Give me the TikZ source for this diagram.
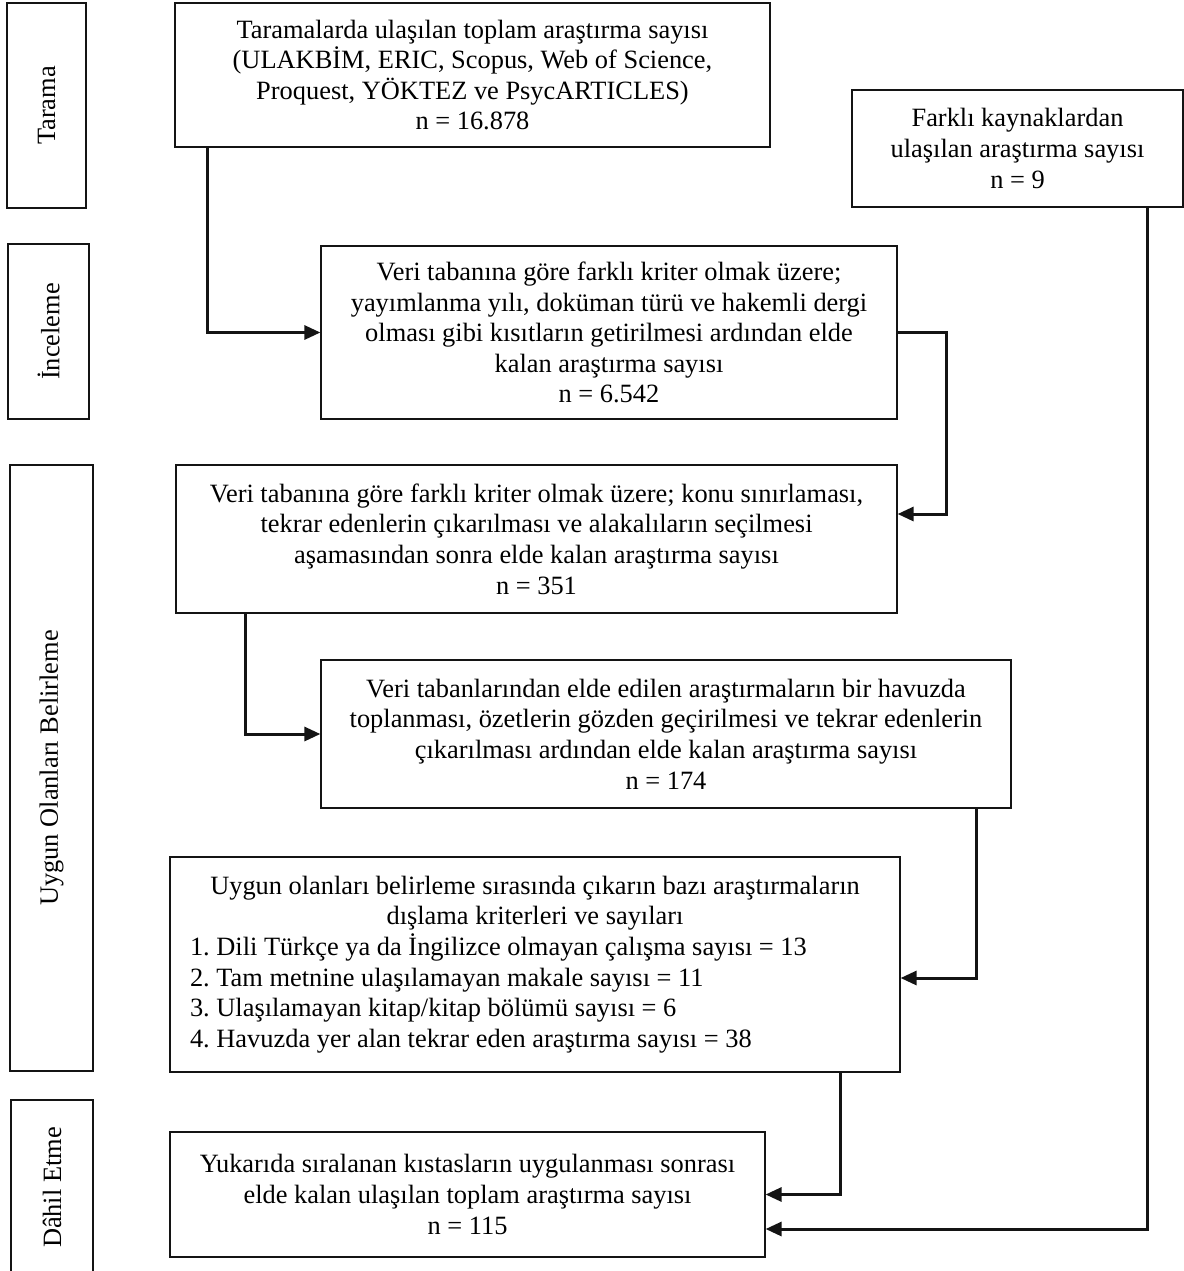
\documentclass[tikz,border=0pt]{standalone}
\usepackage{fontspec}
\setmainfont{Liberation Serif}
\usepackage{tikz}
\usetikzlibrary{arrows.meta,positioning,calc}
\definecolor{ink}{RGB}{20,20,20}
\frenchspacing
\tikzset{
  box/.style={draw=ink,line width=0.6pt,fill=white,inner sep=3pt,
    font=\fontsize{13.2}{15.3}\selectfont,align=center},
  side/.style={box,rotate=90},
  arr/.style={-{Triangle[length=8pt,width=7pt]},line width=1.5pt,ink},
}

\begin{document}
\begin{tikzpicture}[x=0.5pt,y=-0.5pt]
  \useasboundingbox (0,0) rectangle (1184,1271);
  % stage labels on the left
  \node[side,minimum width=102.5pt,minimum height=39.5pt] (sTar) at (46.5,105.5) {Tarama};
  \node[side,minimum width=87.5pt,minimum height=40.5pt] (sInc) at (48.5,331.5) {İnceleme};
  \node[side,minimum width=303pt,minimum height=41.5pt] (sUyg) at (51.5,768) {Uygun Olanları Belirleme};
  \node[side,minimum width=87.5pt,minimum height=41pt] (sDah) at (52,1187.5) {Dâhil Etme};
  % flow boxes
  \node[box,minimum width=297.5pt,minimum height=72pt] (b1) at (472.5,75)
    {Taramalarda ulaşılan toplam araştırma sayısı\\
     (ULAKBİM, ERIC, Scopus, Web of Science,\\
     Proquest, YÖKTEZ ve PsycARTICLES)\\
     n = 16.878};
  \node[box,minimum width=165.5pt,minimum height=58.5pt] (fk) at (1017.5,148.5)
    {Farklı kaynaklardan\\ ulaşılan araştırma sayısı\\ n = 9};
  \node[box,minimum width=288pt,minimum height=86.5pt] (b2) at (609,332.5)
    {Veri tabanına göre farklı kriter olmak üzere;\\
     yayımlanma yılı, doküman türü ve hakemli dergi\\
     olması gibi kısıtların getirilmesi ardından elde\\
     kalan araştırma sayısı\\
     n = 6.542};
  \node[box,minimum width=360.5pt,minimum height=74pt] (b3) at (536.5,539)
    {Veri tabanına göre farklı kriter olmak üzere; konu sınırlaması,\\
     tekrar edenlerin çıkarılması ve alakalıların seçilmesi\\
     aşamasından sonra elde kalan araştırma sayısı\\
     n = 351};
  \node[box,minimum width=345pt,minimum height=74pt] (b4) at (666,734)
    {Veri tabanlarından elde edilen araştırmaların bir havuzda\\
     toplanması, özetlerin gözden geçirilmesi ve tekrar edenlerin\\
     çıkarılması ardından elde kalan araştırma sayısı\\
     n = 174};
  \node[box,minimum width=365pt,minimum height=107.5pt] (b5) at (535,964.5)
    {\begin{minipage}{345pt}\centering
     Uygun olanları belirleme sırasında çıkarın bazı araştırmaların\\
     dışlama kriterleri ve sayıları\par\raggedright
     1. Dili Türkçe ya da İngilizce olmayan çalışma sayısı = 13\\
     2. Tam metnine ulaşılamayan makale sayısı = 11\\
     3. Ulaşılamayan kitap/kitap bölümü sayısı = 6\\
     4. Havuzda yer alan tekrar eden araştırma sayısı = 38
     \end{minipage}};
  \node[box,minimum width=297.5pt,minimum height=62.5pt] (b6) at (467.5,1194.5)
    {Yukarıda sıralanan kıstasların uygulanması sonrası\\
     elde kalan ulaşılan toplam araştırma sayısı\\
     n = 115};
  % bends of the connectors
  \coordinate (k12) at (207,0);
  \coordinate (k23) at (946,514);
  \coordinate (k34) at (245,0);
  \coordinate (k45) at (976,978);
  \coordinate (k56) at (840,0);
  \coordinate (kf6) at (1147,1229);
  \draw[arr] (b1.south -| k12) |- (b2.west);
  \draw[arr] (b2.east) -| (k23) -- (b3.east |- k23);
  \draw[arr] (b3.south -| k34) |- (b4.west);
  \draw[arr] (b4.south -| k45) |- (b5.east |- k45);
  \draw[arr] (b5.south -| k56) |- (b6.east);
  \draw[arr] (fk.south -| kf6) |- (b6.east |- kf6);
\end{tikzpicture}
\end{document}
